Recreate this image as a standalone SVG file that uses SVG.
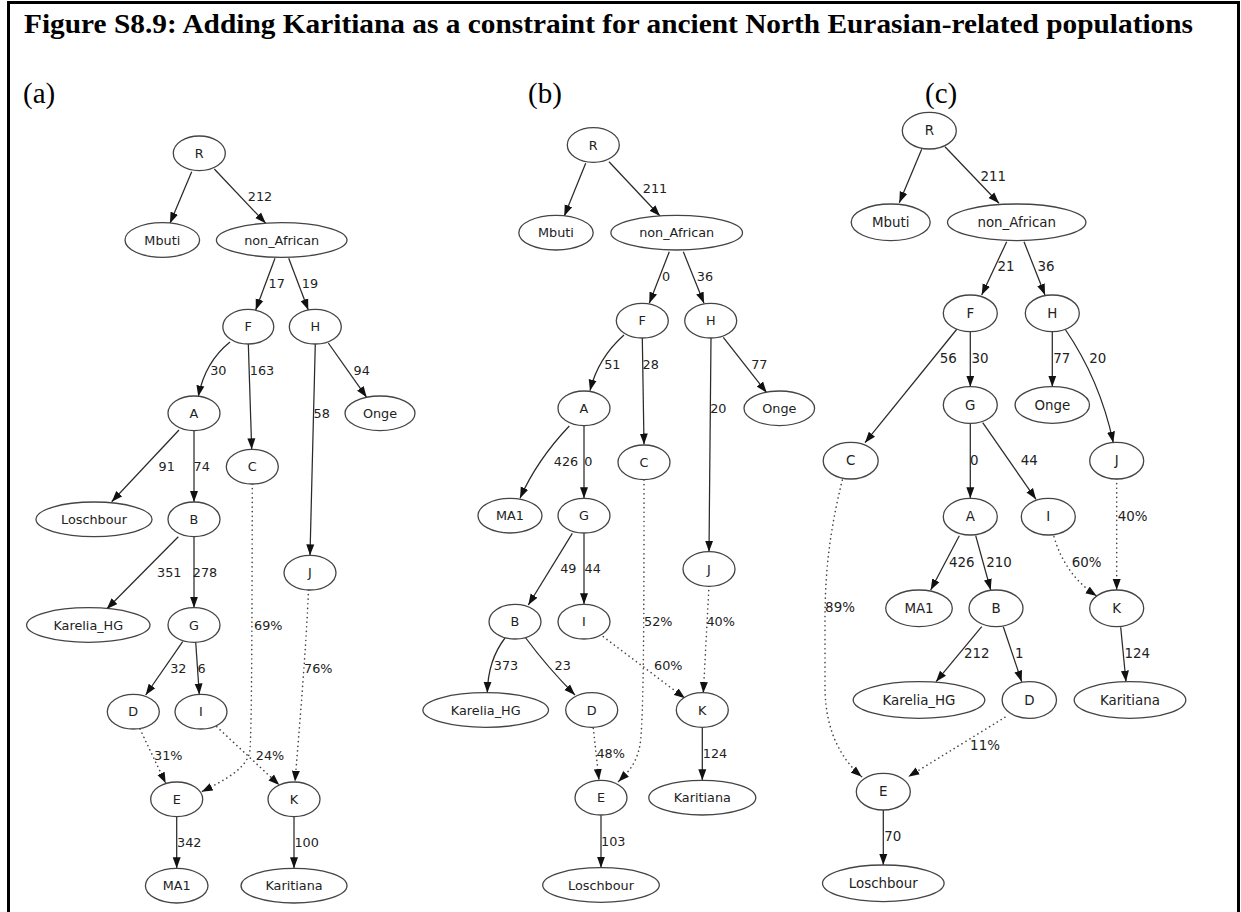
<svg xmlns="http://www.w3.org/2000/svg" width="1241" height="912" viewBox="0 0 1241 912">
<style>
  .frame{fill:none;stroke:#000;stroke-width:3}
  .title{font-family:"Liberation Serif","Times New Roman",serif;font-weight:bold;font-size:28px;fill:#000}
  .plab{font-family:"Liberation Serif","Times New Roman",serif;font-size:29px;fill:#000}
  .node ellipse{fill:#fff;stroke:#444;stroke-width:1.3}
  .node text{font-family:"DejaVu Sans",sans-serif;fill:#222;text-anchor:middle;dominant-baseline:central}
  .ab text{font-size:12.8px}
  .c text{font-size:13.4px}
  .e{fill:none;stroke:#2a2a2a;stroke-width:1.25;marker-end:url(#arr)}
  .d{fill:none;stroke:#444;stroke-width:1.6;stroke-dasharray:0.1 4.5;stroke-linecap:round;marker-end:url(#arr)}
  .lbl text{font-family:"DejaVu Sans",sans-serif;fill:#222;text-anchor:middle;dominant-baseline:central}
</style>
<defs>
  <marker id="arr" markerWidth="11" markerHeight="9" refX="11" refY="4.5" orient="auto" markerUnits="userSpaceOnUse">
    <path d="M0,0.5 L11,4.5 L0,8.5 z" fill="#111"/>
  </marker>
</defs>
<rect x="0" y="0" width="1241" height="912" fill="#fff"/>
<path class="frame" d="M8.5,912 L8.5,2.5 L1238.5,2.5 L1238.5,912"/>
<text class="title" x="24" y="33" textLength="1169" lengthAdjust="spacingAndGlyphs">Figure S8.9: Adding Karitiana as a constraint for ancient North Eurasian-related populations</text>
<text class="plab" x="23" y="103">(a)</text>
<text class="plab" x="528" y="103">(b)</text>
<text class="plab" x="925" y="103">(c)</text>

<!-- connectors -->
<g id="connectors">
  <!-- panel a -->
  <path class="e" d="M191.7,171.7 L170,223.3"/>
  <path class="e" d="M214.3,169 L265.7,223.3"/>
  <path class="e" d="M275,258.3 L255.7,310"/>
  <path class="e" d="M288.7,258.3 L308.3,310"/>
  <path class="e" d="M230,342 Q205,362 198.3,396.5"/>
  <path class="e" d="M248.3,343.5 L251.7,449.3"/>
  <path class="e" d="M315.3,343.5 L310,555.3"/>
  <path class="e" d="M328.3,343 L366.7,397.3"/>
  <path class="e" d="M179,430 L111.7,501.7"/>
  <path class="e" d="M194,430.5 L194,502"/>
  <path class="e" d="M178.3,536.7 L106.7,609"/>
  <path class="e" d="M194,536.7 L194,607.7"/>
  <path class="e" d="M182.7,641.7 L145.7,695"/>
  <path class="e" d="M195.7,642 L199.3,694.5"/>
  <path class="d" d="M252.3,484 C252,600 252,720 250,750 C248,768 225,780 201.7,791.7"/>
  <path class="d" d="M308.5,590 C306,650 300,720 295,781.7"/>
  <path class="d" d="M140,729 L165.7,783.3"/>
  <path class="d" d="M216.7,726.7 L279.3,785"/>
  <path class="e" d="M176.7,816.7 L176.7,868.3"/>
  <path class="e" d="M294,816.7 L294,868.3"/>
  <!-- panel b -->
  <path class="e" d="M585.7,163.3 L564.3,216"/>
  <path class="e" d="M609,161.7 L660,216"/>
  <path class="e" d="M669.3,251.7 L649.3,303.3"/>
  <path class="e" d="M683.3,251.7 L704,303.3"/>
  <path class="e" d="M624,335 Q598,358 590,390.7"/>
  <path class="e" d="M642.3,338 L644,444.5"/>
  <path class="e" d="M711,338 L709,551.7"/>
  <path class="e" d="M723.3,337.3 L766.7,392.7"/>
  <path class="e" d="M569.3,426 Q537,460 520,498.3"/>
  <path class="e" d="M584,426 L584,498.3"/>
  <path class="e" d="M572.3,533.3 L528.3,605"/>
  <path class="e" d="M584,533.3 L584,604.3"/>
  <path class="e" d="M505,638 Q488,660 487.3,692.7"/>
  <path class="e" d="M525,637 Q548,668 575,695"/>
  <path class="d" d="M644,480 C644,600 644,720 640,745 C636,765 628,772 618.3,781.7"/>
  <path class="d" d="M709,586 L703.3,693"/>
  <path class="d" d="M603.3,636.7 L685,698.3"/>
  <path class="d" d="M593.3,728.3 L599,780"/>
  <path class="e" d="M601,815.3 L601,867.7"/>
  <path class="e" d="M702.3,727.3 L702.3,780.3"/>
  <!-- panel c -->
  <path class="e" d="M921.7,149.3 L899.3,202.7"/>
  <path class="e" d="M945,146.7 L999,203.3"/>
  <path class="e" d="M1006.7,241.7 L981.7,295"/>
  <path class="e" d="M1024,241.7 L1045,295"/>
  <path class="e" d="M957,329 L865,442.7"/>
  <path class="e" d="M970.3,331.7 L970.3,386.7"/>
  <path class="e" d="M1052.3,331.7 L1052.3,386.7"/>
  <path class="e" d="M1065,329 Q1100,380 1113.3,442.7"/>
  <path class="e" d="M970.3,423.3 L970.3,498.3"/>
  <path class="e" d="M982.7,422.7 L1036,499.3"/>
  <path class="d" d="M842.3,480 C830,530 825,570 825,620 L825,690 C826,730 840,758 861.7,776.7"/>
  <path class="d" d="M1116.7,479 L1116.7,590"/>
  <path class="d" d="M1054,536.7 Q1065,575 1096.7,596"/>
  <path class="e" d="M959.3,535.7 L930.7,590"/>
  <path class="e" d="M975.7,535.7 L990.7,590"/>
  <path class="e" d="M981.7,626.7 L936,681.7"/>
  <path class="e" d="M1003.3,626.7 L1021.7,681.7"/>
  <path class="e" d="M1120.7,627.3 L1126,681.7"/>
  <path class="d" d="M1005,717.3 Q960,745 908.3,776.7"/>
  <path class="e" d="M883.3,810 L883.3,865"/>
</g>

<!-- edge labels -->
<g id="edge-labels" class="lbl">
  <g style="font-size:12.8px">
    <text x="260" y="196.7">212</text>
    <text x="276.7" y="283.3">17</text>
    <text x="310" y="283.3">19</text>
    <text x="218.3" y="370">30</text>
    <text x="262" y="370">163</text>
    <text x="361.7" y="370">94</text>
    <text x="321.7" y="413.3">58</text>
    <text x="166.7" y="466.3">91</text>
    <text x="201.7" y="466.3">74</text>
    <text x="169.3" y="572">351</text>
    <text x="205" y="572">278</text>
    <text x="268.3" y="625">69%</text>
    <text x="178.3" y="668.3">32</text>
    <text x="201.7" y="668.3">6</text>
    <text x="318.3" y="668.3">76%</text>
    <text x="168.3" y="755.7">31%</text>
    <text x="270" y="755.7">24%</text>
    <text x="189.3" y="842">342</text>
    <text x="306.7" y="842">100</text>

    <text x="655" y="188.3">211</text>
    <text x="666" y="276.7">0</text>
    <text x="705" y="276.7">36</text>
    <text x="612.3" y="364">51</text>
    <text x="650.7" y="364">28</text>
    <text x="759.3" y="364">77</text>
    <text x="718.3" y="408.3">20</text>
    <text x="566" y="461">426</text>
    <text x="588.3" y="461">0</text>
    <text x="568.3" y="568.3">49</text>
    <text x="592.7" y="568.3">44</text>
    <text x="658.3" y="621.7">52%</text>
    <text x="720.7" y="621.7">40%</text>
    <text x="506" y="665.7">373</text>
    <text x="562.7" y="665.7">23</text>
    <text x="668.3" y="665.7">60%</text>
    <text x="610.7" y="753.3">48%</text>
    <text x="715" y="753.3">124</text>
    <text x="613.3" y="841">103</text>
  </g>
  <g style="font-size:13.4px">
    <text x="993.3" y="176">211</text>
    <text x="1006" y="266.7">21</text>
    <text x="1046" y="266.7">36</text>
    <text x="948.3" y="358.3">56</text>
    <text x="980" y="358.3">30</text>
    <text x="1061.7" y="358.3">77</text>
    <text x="1097.7" y="358.3">20</text>
    <text x="974.3" y="460.7">0</text>
    <text x="1029.3" y="460.7">44</text>
    <text x="1132.7" y="516">40%</text>
    <text x="961.7" y="562">426</text>
    <text x="999" y="562">210</text>
    <text x="1086.7" y="562">60%</text>
    <text x="840" y="607.3">89%</text>
    <text x="976.7" y="653.3">212</text>
    <text x="1019.3" y="653.3">1</text>
    <text x="1137.3" y="653.3">124</text>
    <text x="985" y="745.7">11%</text>
    <text x="892.7" y="836.7">70</text>
  </g>
</g>

<!-- panel a nodes -->
<g class="ab">
  <g id="a-R" class="node"><ellipse cx="199.3" cy="153.3" rx="26" ry="17.3"/><text x="199.3" y="153.3">R</text></g>
  <g id="a-Mbuti" class="node"><ellipse cx="162.3" cy="240" rx="37.3" ry="17.3"/><text x="162.3" y="240">Mbuti</text></g>
  <g id="a-non_African" class="node"><ellipse cx="281.7" cy="240" rx="65.3" ry="17.3"/><text x="281.7" y="240">non_African</text></g>
  <g id="a-F" class="node"><ellipse cx="248.3" cy="326.7" rx="25.5" ry="17.3"/><text x="248.3" y="326.7">F</text></g>
  <g id="a-H" class="node"><ellipse cx="315.3" cy="326.7" rx="26" ry="17.3"/><text x="315.3" y="326.7">H</text></g>
  <g id="a-A" class="node"><ellipse cx="194" cy="413.3" rx="26" ry="17.3"/><text x="194" y="413.3">A</text></g>
  <g id="a-Onge" class="node"><ellipse cx="380" cy="413.3" rx="35" ry="17.3"/><text x="380" y="413.3">Onge</text></g>
  <g id="a-C" class="node"><ellipse cx="252.3" cy="466.7" rx="26" ry="17.3"/><text x="252.3" y="466.7">C</text></g>
  <g id="a-Loschbour" class="node"><ellipse cx="94" cy="519.3" rx="58" ry="17.3"/><text x="94" y="519.3">Loschbour</text></g>
  <g id="a-B" class="node"><ellipse cx="194" cy="519.3" rx="26" ry="17.3"/><text x="194" y="519.3">B</text></g>
  <g id="a-J" class="node"><ellipse cx="310" cy="572.7" rx="26" ry="17.3"/><text x="310" y="572.7">J</text></g>
  <g id="a-Karelia_HG" class="node"><ellipse cx="88.3" cy="625" rx="61.7" ry="17.3"/><text x="88.3" y="625">Karelia_HG</text></g>
  <g id="a-G" class="node"><ellipse cx="194" cy="625" rx="26" ry="17.3"/><text x="194" y="625">G</text></g>
  <g id="a-D" class="node"><ellipse cx="133.3" cy="711.7" rx="26" ry="17.3"/><text x="133.3" y="711.7">D</text></g>
  <g id="a-I" class="node"><ellipse cx="201" cy="711.7" rx="26" ry="17.3"/><text x="201" y="711.7">I</text></g>
  <g id="a-E" class="node"><ellipse cx="176.7" cy="799.3" rx="26" ry="17.3"/><text x="176.7" y="799.3">E</text></g>
  <g id="a-K" class="node"><ellipse cx="294" cy="799.3" rx="26" ry="17.3"/><text x="294" y="799.3">K</text></g>
  <g id="a-MA1" class="node"><ellipse cx="176.7" cy="885.7" rx="31.3" ry="17.3"/><text x="176.7" y="885.7">MA1</text></g>
  <g id="a-Karitiana" class="node"><ellipse cx="294" cy="885.7" rx="53" ry="17.3"/><text x="294" y="885.7">Karitiana</text></g>
</g>

<!-- panel b nodes -->
<g class="ab">
  <g id="b-R" class="node"><ellipse cx="593.3" cy="145" rx="26" ry="17.3"/><text x="593.3" y="145">R</text></g>
  <g id="b-Mbuti" class="node"><ellipse cx="556" cy="232.7" rx="37.2" ry="17.3"/><text x="556" y="232.7">Mbuti</text></g>
  <g id="b-non_African" class="node"><ellipse cx="676.7" cy="232.7" rx="65.8" ry="17.3"/><text x="676.7" y="232.7">non_African</text></g>
  <g id="b-F" class="node"><ellipse cx="642.3" cy="320.7" rx="26" ry="17.3"/><text x="642.3" y="320.7">F</text></g>
  <g id="b-H" class="node"><ellipse cx="710.7" cy="320.7" rx="26" ry="17.3"/><text x="710.7" y="320.7">H</text></g>
  <g id="b-A" class="node"><ellipse cx="584" cy="408.3" rx="26" ry="17.3"/><text x="584" y="408.3">A</text></g>
  <g id="b-Onge" class="node"><ellipse cx="779.3" cy="408.3" rx="35.3" ry="17.3"/><text x="779.3" y="408.3">Onge</text></g>
  <g id="b-C" class="node"><ellipse cx="644" cy="462.3" rx="26" ry="17.3"/><text x="644" y="462.3">C</text></g>
  <g id="b-MA1" class="node"><ellipse cx="510" cy="515.7" rx="32" ry="17.3"/><text x="510" y="515.7">MA1</text></g>
  <g id="b-G" class="node"><ellipse cx="584" cy="515.7" rx="26" ry="17.3"/><text x="584" y="515.7">G</text></g>
  <g id="b-J" class="node"><ellipse cx="709" cy="569" rx="26" ry="17.3"/><text x="709" y="569">J</text></g>
  <g id="b-B" class="node"><ellipse cx="515" cy="621.7" rx="26" ry="17.3"/><text x="515" y="621.7">B</text></g>
  <g id="b-I" class="node"><ellipse cx="584" cy="621.7" rx="26" ry="17.3"/><text x="584" y="621.7">I</text></g>
  <g id="b-Karelia_HG" class="node"><ellipse cx="485.7" cy="710" rx="62.8" ry="17.3"/><text x="485.7" y="710">Karelia_HG</text></g>
  <g id="b-D" class="node"><ellipse cx="591.7" cy="710" rx="26" ry="17.3"/><text x="591.7" y="710">D</text></g>
  <g id="b-K" class="node"><ellipse cx="702.3" cy="710" rx="26" ry="17.3"/><text x="702.3" y="710">K</text></g>
  <g id="b-E" class="node"><ellipse cx="601" cy="797.7" rx="26" ry="17.3"/><text x="601" y="797.7">E</text></g>
  <g id="b-Karitiana" class="node"><ellipse cx="702.3" cy="797.7" rx="53.5" ry="17.3"/><text x="702.3" y="797.7">Karitiana</text></g>
  <g id="b-Loschbour" class="node"><ellipse cx="601" cy="885" rx="58.3" ry="17.3"/><text x="601" y="885">Loschbour</text></g>
</g>

<!-- panel c nodes -->
<g class="c">
  <g id="c-R" class="node"><ellipse cx="929.3" cy="130.7" rx="27" ry="18.3"/><text x="929.3" y="130.7">R</text></g>
  <g id="c-Mbuti" class="node"><ellipse cx="890.7" cy="222.3" rx="39.5" ry="18.3"/><text x="890.7" y="222.3">Mbuti</text></g>
  <g id="c-non_African" class="node"><ellipse cx="1016.7" cy="222.3" rx="69.2" ry="18.3"/><text x="1016.7" y="222.3">non_African</text></g>
  <g id="c-F" class="node"><ellipse cx="970.3" cy="313.3" rx="27" ry="18.3"/><text x="970.3" y="313.3">F</text></g>
  <g id="c-H" class="node"><ellipse cx="1052.3" cy="313.3" rx="27" ry="18.3"/><text x="1052.3" y="313.3">H</text></g>
  <g id="c-G" class="node"><ellipse cx="970.3" cy="405" rx="27" ry="18.3"/><text x="970.3" y="405">G</text></g>
  <g id="c-Onge" class="node"><ellipse cx="1052.3" cy="405" rx="37.2" ry="18.3"/><text x="1052.3" y="405">Onge</text></g>
  <g id="c-C" class="node"><ellipse cx="850.7" cy="460.7" rx="27.5" ry="18.3"/><text x="850.7" y="460.7">C</text></g>
  <g id="c-J" class="node"><ellipse cx="1116.7" cy="460.7" rx="27" ry="18.3"/><text x="1116.7" y="460.7">J</text></g>
  <g id="c-A" class="node"><ellipse cx="970.3" cy="516.7" rx="27" ry="18.3"/><text x="970.3" y="516.7">A</text></g>
  <g id="c-I" class="node"><ellipse cx="1048.3" cy="516.7" rx="27" ry="18.3"/><text x="1048.3" y="516.7">I</text></g>
  <g id="c-MA1" class="node"><ellipse cx="919" cy="608.3" rx="33.3" ry="18.3"/><text x="919" y="608.3">MA1</text></g>
  <g id="c-B" class="node"><ellipse cx="996" cy="608.3" rx="27" ry="18.3"/><text x="996" y="608.3">B</text></g>
  <g id="c-K" class="node"><ellipse cx="1116.7" cy="608.3" rx="27" ry="18.3"/><text x="1116.7" y="608.3">K</text></g>
  <g id="c-Karelia_HG" class="node"><ellipse cx="919" cy="700" rx="65.8" ry="18.3"/><text x="919" y="700">Karelia_HG</text></g>
  <g id="c-D" class="node"><ellipse cx="1029.3" cy="700" rx="27.2" ry="18.3"/><text x="1029.3" y="700">D</text></g>
  <g id="c-Karitiana" class="node"><ellipse cx="1130" cy="700" rx="55.8" ry="18.3"/><text x="1130" y="700">Karitiana</text></g>
  <g id="c-E" class="node"><ellipse cx="883.3" cy="791.7" rx="27" ry="18.3"/><text x="883.3" y="791.7">E</text></g>
  <g id="c-Loschbour" class="node"><ellipse cx="883.3" cy="883.3" rx="60.8" ry="18.3"/><text x="883.3" y="883.3">Loschbour</text></g>
</g>
</svg>
